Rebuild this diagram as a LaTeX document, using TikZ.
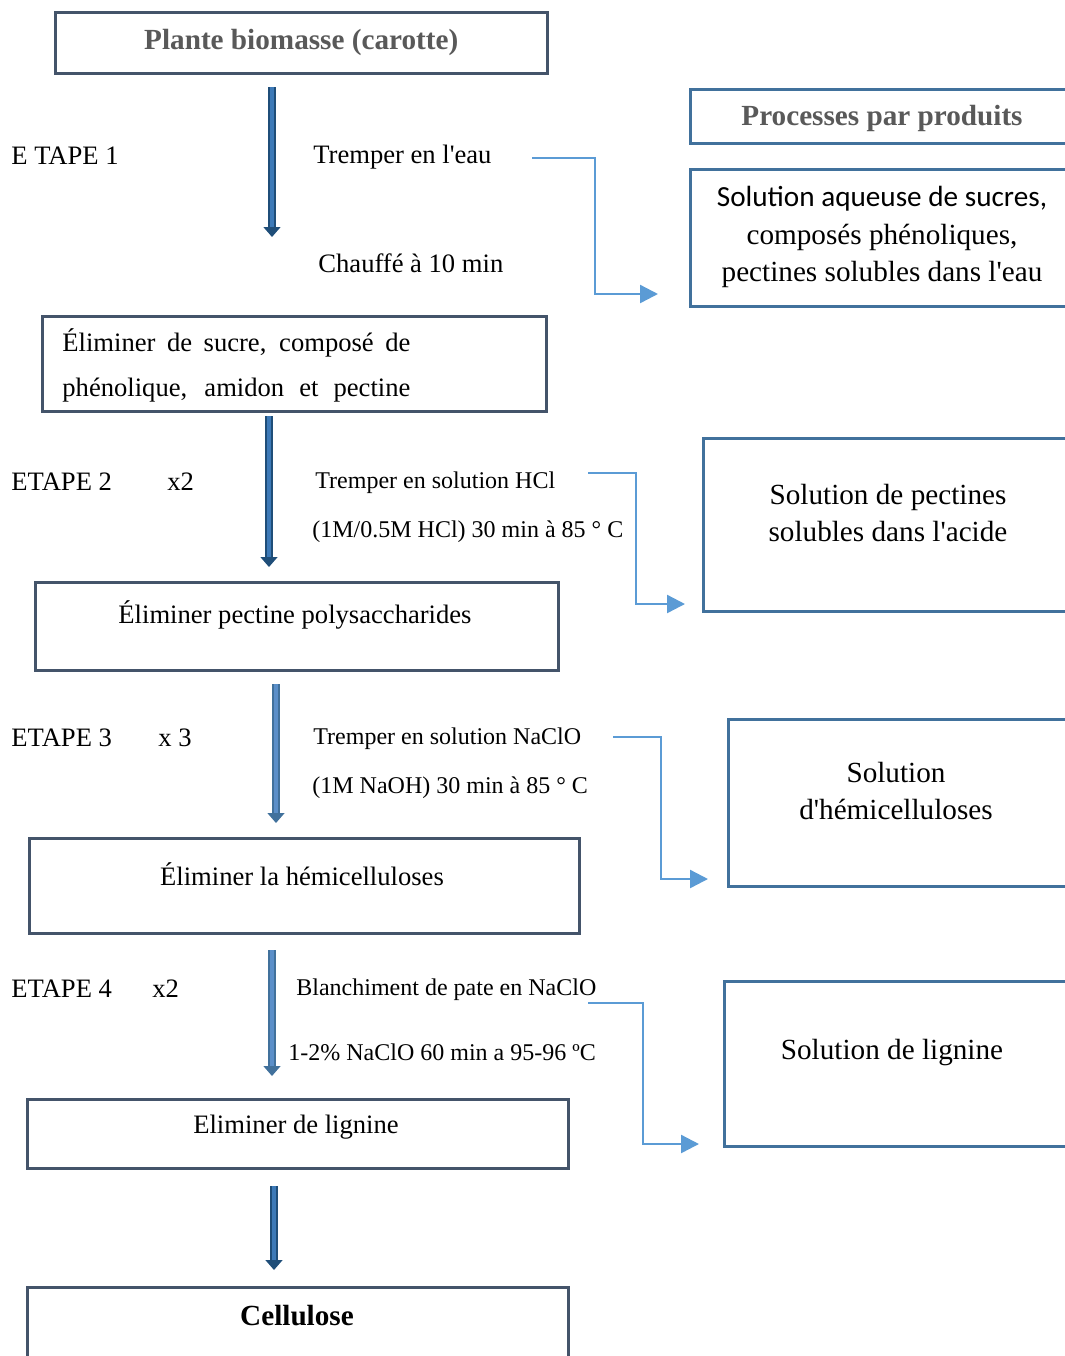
\documentclass[tikz,border=0pt]{standalone}
\usepackage{fontspec}
\setmainfont{Liberation Serif}
\newfontfamily\calibrifont{Carlito}
\usetikzlibrary{arrows.meta}

\definecolor{boxline}{HTML}{44546A}
\definecolor{prodline}{HTML}{41719C}
\definecolor{titlegray}{HTML}{595959}
\definecolor{arrowdark}{HTML}{1F4E79}
\definecolor{arrowmid}{HTML}{3D7AB8}
\definecolor{arrowlight}{HTML}{41719C}
\definecolor{arrowpale}{HTML}{5B8FC9}
\definecolor{linkblue}{HTML}{5B9BD5}

\newcommand{\bodyfont}{\fontsize{13.3}{16}\selectfont}
\newcommand{\smallerfont}{\fontsize{12}{14}\selectfont}
\newcommand{\prodfont}{\fontsize{14.6}{18.75}\selectfont}
\newcommand{\titlefont}{\bfseries\fontsize{14.6}{17}\selectfont}
\newcommand{\apos}{\textquotesingle}

\tikzset{
  stagebox/.style={draw=boxline, line width=1.25pt, rectangle, inner sep=0pt, anchor=north west},
  prodbox/.style={draw=prodline, line width=1.5pt, rectangle, inner sep=0pt, anchor=north west},
  steptext/.style={inner sep=0pt, anchor=west, font=\bodyfont},
  condtext/.style={inner sep=0pt, anchor=west, font=\smallerfont},
  downarrow/.style={draw=arrowdark, double=arrowmid, line width=0.75pt, double distance=2.3pt,
    -{Triangle[width=8.5pt,length=5pt]}},
  downarrowlight/.style={draw=arrowlight, double=arrowpale, line width=0.75pt, double distance=2.3pt,
    -{Triangle[width=8.5pt,length=5pt]}},
  linkarrow/.style={draw=linkblue, line width=1.2pt, -{Triangle[width=9pt,length=9pt]}}
}

\begin{document}
\begin{tikzpicture}[x=0.5pt, y=-0.5pt]
  \clip (0,0) rectangle (1065,1356);

  % main column
  \node[stagebox, minimum width=246pt, minimum height=30.5pt, font=\titlefont, text=titlegray]
    (plante) at (54,11) {Plante biomasse (carotte)};
  \node[stagebox, minimum width=252pt, minimum height=47.5pt] (elimsucre) at (41,315) {};
  \node[inner sep=0pt, anchor=west, align=left, font=\fontsize{13.3}{22.5}\selectfont] (elimsucretxt) at (62,365)
    {\makebox[174pt][s]{Éliminer de sucre, composé de}\\
     \makebox[174pt][s]{phénolique, amidon et pectine}};
  \node[stagebox, minimum width=261.5pt, minimum height=44pt] (elimpect) at (34,581) {};
  \node[font=\bodyfont, inner sep=0pt] (elimpecttxt) at (295,615) {Éliminer pectine polysaccharides};
  \node[stagebox, minimum width=275pt, minimum height=47.5pt] (elimhemi) at (28,837) {};
  \node[font=\bodyfont, inner sep=0pt] (elimhemitxt) at (302,874) {Éliminer la hémicelluloses};
  \node[stagebox, minimum width=270.5pt, minimum height=34.5pt] (elimlig) at (26,1098) {};
  \node[font=\bodyfont, inner sep=0pt] (elimligtxt) at (296,1127) {Eliminer de lignine};
  \node[stagebox, minimum width=270.5pt, minimum height=45pt] (cellu) at (26,1286) {};
  \node[font=\titlefont, inner sep=0pt] (cellutxt) at (297,1316) {Cellulose};

  % by-products column
  \node[prodbox, minimum width=195.5pt, minimum height=27pt] (prodtitle) at (689,88) {};
  \node[font=\titlefont, text=titlegray, inner sep=0pt] (prodtitletxt) at (882,118) {Processes par produits};
  \node[prodbox, minimum width=195.5pt, minimum height=68.5pt] (solaq) at (689,168) {};
  \node[align=center, font=\prodfont, inner sep=0pt] (solaqtxt) at (882,237)
    {{\calibrifont Solution aqueuse de sucres,}\\ composés phénoliques,\\ pectines solubles dans l\apos eau};
  \node[prodbox, minimum width=190pt, minimum height=86.5pt] (solpect) at (702,437) {};
  \node[align=center, font=\fontsize{14.6}{18.5}\selectfont, inner sep=0pt] (solpecttxt) at (888,513)
    {Solution de pectines\\ solubles dans l\apos acide};
  \node[prodbox, minimum width=177.5pt, minimum height=83.5pt] (solhemi) at (727,718) {};
  \node[align=center, font=\fontsize{14.6}{19}\selectfont, inner sep=0pt] (solhemitxt) at (896,791)
    {Solution\\ d\apos hémicelluloses};
  \node[prodbox, minimum width=180pt, minimum height=82.5pt] (sollig) at (723,980) {};
  \node[font=\prodfont, inner sep=0pt] (sollitxt) at (892,1053) {Solution de lignine};

  % step labels
  \node[steptext] (etape1) at (11,156) {E TAPE 1};
  \node[steptext] (eau) at (313,157) {Tremper en l\apos eau};
  \node[steptext] (chauffe) at (318,263) {Chauffé à 10 min};
  \node[steptext] (etape2) at (11,482) {ETAPE 2};
  \node[steptext] (fois2) at (167,482) {x2};
  \node[condtext] (hcl) at (315,483) {Tremper en solution HCl};
  \node[condtext] (hcldose) at (312,532) {(1M/0.5M HCl) 30 min à 85 ° C};
  \node[steptext] (etape3) at (11,738) {ETAPE 3};
  \node[steptext] (fois3) at (158,738) {x 3};
  \node[condtext] (naclo) at (313,739) {Tremper en solution NaClO};
  \node[condtext] (naoh) at (312,788) {(1M NaOH) 30 min à 85 ° C};
  \node[steptext] (etape4) at (11,989) {ETAPE 4};
  \node[steptext] (fois4) at (152,989) {x2};
  \node[condtext] (blanch) at (296,990) {Blanchiment de pate en NaClO};
  \node[condtext] (blanchdose) at (288,1052) {1-2\% NaClO 60 min a 95-96 ºC};

  % vertical arrows
  \coordinate (a1s) at (272,87);   \coordinate (a1e) at (272,237);
  \coordinate (a2s) at (269,416);  \coordinate (a2e) at (269,567);
  \coordinate (a3s) at (276,684);  \coordinate (a3e) at (276,823);
  \coordinate (a4s) at (272,950);  \coordinate (a4e) at (272,1076);
  \coordinate (a5s) at (274,1186); \coordinate (a5e) at (274,1270);
  \draw[downarrow] (a1s) -- (a1e);
  \draw[downarrow] (a2s) -- (a2e);
  \draw[downarrowlight] (a3s) -- (a3e);
  \draw[downarrowlight] (a4s) -- (a4e);
  \draw[downarrow] (a5s) -- (a5e);

  % links to by-products
  \coordinate (l1s) at (532,158);  \coordinate (l1c) at (595,294);  \coordinate (l1e) at (658,294);
  \coordinate (l2s) at (588,473);  \coordinate (l2c) at (636,604);  \coordinate (l2e) at (685,604);
  \coordinate (l3s) at (613,737);  \coordinate (l3c) at (661,879);  \coordinate (l3e) at (708,879);
  \coordinate (l4s) at (588,1003); \coordinate (l4c) at (643,1144); \coordinate (l4e) at (699,1144);
  \draw[linkarrow] (l1s) -| (l1c) -- (l1e);
  \draw[linkarrow] (l2s) -| (l2c) -- (l2e);
  \draw[linkarrow] (l3s) -| (l3c) -- (l3e);
  \draw[linkarrow] (l4s) -| (l4c) -- (l4e);
\end{tikzpicture}
\end{document}
